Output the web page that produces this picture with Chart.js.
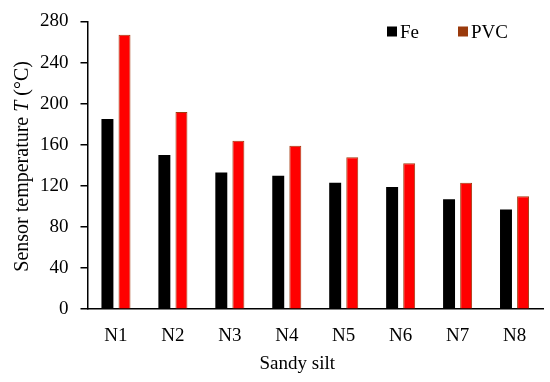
<!DOCTYPE html>
<html>
<head>
<meta charset="utf-8">
<script src="https://cdn.jsdelivr.net/npm/chart.js@4.4.1/dist/chart.umd.min.js"></script>
<style>
  html, body { margin: 0; padding: 0; background: #fff; }
  #wrap { width: 550px; height: 382px; }
</style>
</head>
<body>
<div id="wrap"><canvas id="tempChart"></canvas></div>
<script>
// Data
const categories = ['N1', 'N2', 'N3', 'N4', 'N5', 'N6', 'N7', 'N8'];
const feValues = [185, 150, 133, 130, 123, 119, 107, 97];
const pvcValues = [267, 192, 164, 159, 148, 142, 123, 110];
const yTicks = [0, 40, 80, 120, 160, 200, 240, 280];
const seriesNames = ['Fe', 'PVC'];
const legendColors = ['#000000', '#9a3a0c'];

const FONT = '"Liberation Serif", "Times New Roman", serif';
Chart.defaults.font.family = FONT;
Chart.defaults.color = '#000';

// Legend inside the plot, top right, plus axis titles (y title has italic T)
const annotatePlugin = {
    id: 'annotate',
    afterDraw(chart) {
        const { ctx, chartArea } = chart;
        ctx.save();
        ctx.fillStyle = '#000';
        ctx.textBaseline = 'alphabetic';
        ctx.font = '19px ' + FONT;

        // legend
        const legendX = [chartArea.right - 156, chartArea.right - 85];
        const legendY = chartArea.top + 5;
        seriesNames.forEach((name, i) => {
            ctx.fillStyle = legendColors[i];
            ctx.fillRect(legendX[i], legendY, 10, 10);
            ctx.fillStyle = '#000';
            ctx.textAlign = 'left';
            ctx.fillText(name, legendX[i] + 13, legendY + 11);
        });

        // x title
        ctx.textAlign = 'center';
        ctx.font = '19px ' + FONT;
        ctx.fillText('Sandy silt', (chartArea.left + chartArea.right) / 2 - 18, chartArea.bottom + 60);

        // y title, rotated, with italic T
        const parts = [
            { t: 'Sensor temperature ', f: '20px ' + FONT },
            { t: 'T', f: 'italic 20px ' + FONT },
            { t: ' (°C)', f: '20px ' + FONT }
        ];
        let total = 0;
        parts.forEach(p => { ctx.font = p.f; p.w = ctx.measureText(p.t).width; total += p.w; });
        ctx.translate(28, (chartArea.top + chartArea.bottom) / 2 + 1);
        ctx.rotate(-Math.PI / 2);
        ctx.textAlign = 'left';
        let x = -total / 2;
        parts.forEach(p => { ctx.font = p.f; ctx.fillText(p.t, x, 0); x += p.w; });
        ctx.restore();
    }
};

const ctx = document.getElementById('tempChart').getContext('2d');

const tempChart = new Chart(ctx, {
    type: 'bar',
    data: {
        labels: categories,
        datasets: [
            {
                label: seriesNames[0],
                data: feValues,
                backgroundColor: '#000000',
                borderWidth: 0
            },
            {
                label: seriesNames[1],
                data: pvcValues,
                backgroundColor: '#ff0000',
                borderColor: '#a33a0e',
                borderWidth: 1
            }
        ]
    },
    plugins: [annotatePlugin],
    options: {
        responsive: true,
        maintainAspectRatio: false,
        animation: false,
        layout: {
            padding: { left: 28, right: 7, top: -4, bottom: 20 }
        },
        datasets: {
            bar: {
                categoryPercentage: 0.6,
                barPercentage: 0.7
            }
        },
        plugins: {
            legend: { display: false },
            tooltip: { enabled: false }
        },
        scales: {
            x: {
                grid: { display: false, drawTicks: false },
                border: { color: '#000', width: 1.5 },
                ticks: { font: { size: 19 }, padding: 15 }
            },
            y: {
                min: 0,
                max: 280,
                afterBuildTicks: (axis) => {
                    axis.ticks = yTicks.map(v => ({ value: v }));
                },
                grid: {
                    drawOnChartArea: false,
                    drawTicks: true,
                    tickLength: 7,
                    color: '#000',
                    lineWidth: 1.5
                },
                border: { color: '#000', width: 1.5 },
                ticks: { font: { size: 19, lineHeight: 1 }, padding: 12 }
            }
        }
    }
});
</script>
</body>
</html>
